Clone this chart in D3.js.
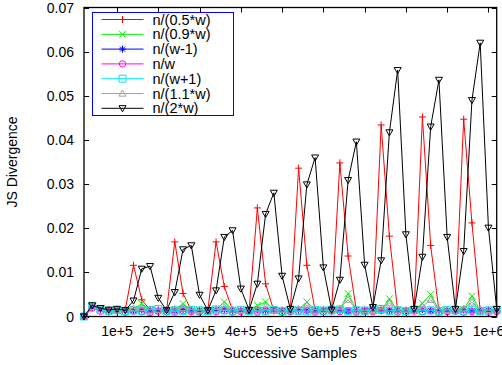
<!DOCTYPE html>
<html>
<head>
<meta charset="utf-8">
<script src="https://cdn.jsdelivr.net/npm/d3@7"></script>
<style>
  html, body { margin: 0; padding: 0; background: #fff; }
  svg { display: block; }
  text { font-family: "Liberation Sans", Arial, Helvetica, sans-serif; fill: #000; }
</style>
</head>
<body>
<svg id="chart" width="502" height="365"></svg>
<script>
// Sample positions (number of successive samples)
const samples = [
  20000, 40000, 60000, 80000, 100000, 120000, 140000, 160000, 180000, 200000,
  220000, 240000, 260000, 280000, 300000, 320000, 340000, 360000, 380000, 400000,
  420000, 440000, 460000, 480000, 500000, 520000, 540000, 560000, 580000, 600000,
  620000, 640000, 660000, 680000, 700000, 720000, 740000, 760000, 780000, 800000,
  820000, 840000, 860000, 880000, 900000, 920000, 940000, 960000, 980000, 1000000,
  1020000
];

// JS divergence per window setting
const halfW = [
  0, 0.0022, 0.0018, 0.0016, 0.0017, 0.0015, 0.0116, 0.0038, 0.0015, 0.0014,
  0.0013, 0.0169, 0.0052, 0.0014, 0.0012, 0.0013, 0.0169, 0.0068, 0.0014, 0.0012,
  0.0013, 0.0246, 0.0074, 0.0013, 0.0012, 0.0013, 0.0336, 0.0116, 0.0014, 0.0012,
  0.0014, 0.0348, 0.0137, 0.0013, 0.0012, 0.0014, 0.0434, 0.0182, 0.0013, 0.0012,
  0.0014, 0.0452, 0.0161, 0.0013, 0.0012, 0.0014, 0.0447, 0.0212, 0.0013, 0.0012,
  0.0014
];
const w09 = [
  0, 0.0023, 0.0017, 0.0015, 0.0016, 0.0014, 0.0016, 0.0029, 0.0015, 0.0013,
  0.0014, 0.0015, 0.0029, 0.0014, 0.0013, 0.0012, 0.0015, 0.0033, 0.0014, 0.0013,
  0.0014, 0.0025, 0.0033, 0.0014, 0.0013, 0.0013, 0.0016, 0.0033, 0.0015, 0.0013,
  0.0014, 0.0016, 0.0052, 0.0015, 0.0013, 0.0014, 0.0015, 0.0040, 0.0014, 0.0013,
  0.0014, 0.0030, 0.0050, 0.0015, 0.0013, 0.0014, 0.0016, 0.0046, 0.0014, 0.0013,
  0.0014
];
const wMinus1 = [
  0, 0.0021, 0.0016, 0.0015, 0.0014, 0.0016, 0.0013, 0.0015, 0.0012, 0.0014,
  0.0015, 0.0013, 0.0016, 0.0012, 0.0014, 0.0013, 0.0015, 0.0016, 0.0013, 0.0014,
  0.0012, 0.0015, 0.0014, 0.0016, 0.0013, 0.0012, 0.0015, 0.0014, 0.0013, 0.0016,
  0.0018, 0.0014, 0.0013, 0.0015, 0.0016, 0.0019, 0.0013, 0.0014, 0.0015, 0.0012,
  0.0014, 0.0016, 0.0013, 0.0015, 0.0014, 0.0012, 0.0015, 0.0013, 0.0016, 0.0014,
  0.0013
];
const wExact = [
  0, 0.0019, 0.0012, 0.0011, 0.0013, 0.0010, 0.0012, 0.0011, 0.0009, 0.0012,
  0.0011, 0.0010, 0.0013, 0.0011, 0.0010, 0.0012, 0.0011, 0.0013, 0.0010, 0.0011,
  0.0012, 0.0010, 0.0011, 0.0013, 0.0010, 0.0011, 0.0012, 0.0014, 0.0010, 0.0011,
  0.0012, 0.0011, 0.0013, 0.0010, 0.0012, 0.0011, 0.0014, 0.0012, 0.0010, 0.0011,
  0.0012, 0.0011, 0.0013, 0.0010, 0.0011, 0.0012, 0.0010, 0.0011, 0.0012, 0.0010,
  0.0011
];
const wPlus1 = [
  0, 0.0024, 0.0015, 0.0013, 0.0014, 0.0012, 0.0014, 0.0013, 0.0015, 0.0017,
  0.0012, 0.0014, 0.0013, 0.0015, 0.0014, 0.0012, 0.0016, 0.0014, 0.0013, 0.0015,
  0.0012, 0.0014, 0.0013, 0.0015, 0.0012, 0.0014, 0.0013, 0.0012, 0.0015, 0.0013,
  0.0014, 0.0016, 0.0012, 0.0014, 0.0013, 0.0015, 0.0017, 0.0013, 0.0014, 0.0012,
  0.0015, 0.0013, 0.0014, 0.0012, 0.0015, 0.0014, 0.0013, 0.0015, 0.0012, 0.0014,
  0.0015
];
const w11 = [
  0, 0.0025, 0.0017, 0.0016, 0.0015, 0.0017, 0.0018, 0.0020, 0.0016, 0.0015,
  0.0016, 0.0017, 0.0020, 0.0016, 0.0015, 0.0016, 0.0017, 0.0021, 0.0016, 0.0015,
  0.0016, 0.0018, 0.0022, 0.0016, 0.0015, 0.0016, 0.0017, 0.0025, 0.0016, 0.0015,
  0.0016, 0.0018, 0.0038, 0.0016, 0.0015, 0.0016, 0.0018, 0.0030, 0.0016, 0.0015,
  0.0016, 0.0022, 0.0038, 0.0016, 0.0015, 0.0016, 0.0018, 0.0032, 0.0016, 0.0015,
  0.0016
];
const twoW = [
  0, 0.0025, 0.0019, 0.0015, 0.0017, 0.0014, 0.0036, 0.0108, 0.0114, 0.0042,
  0.0014, 0.0055, 0.0152, 0.0161, 0.0049, 0.0014, 0.0059, 0.0180, 0.0195, 0.0063,
  0.0015, 0.0074, 0.0232, 0.0280, 0.0092, 0.0017, 0.0086, 0.0299, 0.0360, 0.0111,
  0.0015, 0.0083, 0.0309, 0.0396, 0.0117, 0.0021, 0.0127, 0.0417, 0.0558, 0.0186,
  0.0017, 0.0135, 0.0430, 0.0536, 0.0180, 0.0017, 0.0148, 0.0490, 0.0620, 0.0201,
  0.0017
];

const seriesNames = ["n/(0.5*w)", "n/(0.9*w)", "n/(w-1)", "n/w", "n/(w+1)", "n/(1.1*w)", "n/(2*w)"];
const seriesValues = [halfW, w09, wMinus1, wExact, wPlus1, w11, twoW];
const seriesColors = ["#ff0000", "#00ee00", "#0000ff", "#ff00ff", "#00e8e8", "#a0a0a0", "#000000"];
const seriesMarkers = ["plus", "cross", "star", "circle", "square", "triUp", "triDown"];

const xTicks = [100000, 200000, 300000, 400000, 500000, 600000, 700000, 800000, 900000, 1000000];
const xTickLabels = ["1e+5", "2e+5", "3e+5", "4e+5", "5e+5", "6e+5", "7e+5", "8e+5", "9e+5", "1e+6"];
const yTicks = [0, 0.01, 0.02, 0.03, 0.04, 0.05, 0.06, 0.07];
const yTickLabels = ["0", "0.01", "0.02", "0.03", "0.04", "0.05", "0.06", "0.07"];

const svg = d3.select("#chart");
const plotLeft = 84, plotRight = 496.7, plotTop = 7.5, plotBottom = 316.5;

const x = d3.scaleLinear().domain([20000, 1020000]).range([plotLeft, plotRight]);
const y = d3.scaleLinear().domain([0, 0.07]).range([plotBottom, plotTop]);

// Marker path generators, centred at 0,0
function markerPath(kind, s) {
  const h = s / 2;
  switch (kind) {
    case "plus": return `M${-h},0H${h}M0,${-h}V${h}`;
    case "cross": return `M${-h},${-h}L${h},${h}M${-h},${h}L${h},${-h}`;
    case "star": return `M${-h},0H${h}M0,${-h}V${h}M${-h*0.75},${-h*0.75}L${h*0.75},${h*0.75}M${-h*0.75},${h*0.75}L${h*0.75},${-h*0.75}`;
    case "square": return `M${-h},${-h}H${h}V${h}H${-h}Z`;
    case "triUp": return `M0,${-h}L${h},${h*0.75}L${-h},${h*0.75}Z`;
    case "triDown": return `M0,${h}L${h},${-h*0.75}L${-h},${-h*0.75}Z`;
  }
  return "";
}

function drawMarker(g, kind, color, cx, cy, s) {
  if (kind === "circle") {
    g.append("circle").attr("cx", cx).attr("cy", cy).attr("r", s / 2 - 0.3)
      .attr("fill", "none").attr("stroke", color).attr("stroke-width", 1);
  } else {
    g.append("path").attr("d", markerPath(kind, s))
      .attr("transform", `translate(${cx},${cy})`)
      .attr("fill", "none").attr("stroke", color).attr("stroke-width", 1);
  }
}

// Ticks (inward, mirrored on all four sides)
const tickG = svg.append("g").attr("stroke", "#000").attr("stroke-width", 1);
xTicks.forEach(v => {
  const px = Math.round(x(v)) + 0.5;
  tickG.append("line").attr("x1", px).attr("x2", px).attr("y1", plotBottom).attr("y2", plotBottom - 5);
  tickG.append("line").attr("x1", px).attr("x2", px).attr("y1", plotTop).attr("y2", plotTop + 5);
});
yTicks.forEach(v => {
  const py = Math.round(y(v)) + 0.5;
  tickG.append("line").attr("x1", plotLeft).attr("x2", plotLeft + 5).attr("y1", py).attr("y2", py);
  tickG.append("line").attr("x1", plotRight).attr("x2", plotRight - 5).attr("y1", py).attr("y2", py);
});

// Tick labels (the last one runs past the right edge of the page)
xTicks.forEach((v, i) => {
  svg.append("text").attr("x", x(v)).attr("y", 336)
    .attr("text-anchor", "middle").attr("font-size", 14).text(xTickLabels[i]);
});
yTicks.forEach((v, i) => {
  svg.append("text").attr("x", 74).attr("y", y(v) + 5)
    .attr("text-anchor", "end").attr("font-size", 14).text(yTickLabels[i]);
});

// Axis titles
svg.append("text").attr("x", 290).attr("y", 358).attr("text-anchor", "middle")
  .attr("font-size", 14.5).text("Successive Samples");
svg.append("text").attr("transform", "translate(17,162) rotate(-90)")
  .attr("text-anchor", "middle").attr("font-size", 14).text("JS Divergence");

// Series lines and markers
const line = d3.line().x(d => x(d[0])).y(d => y(d[1]));
const plotG = svg.append("g");
seriesValues.forEach((vals, si) => {
  const pts = samples.map((s, i) => [s, vals[i]]);
  const g = plotG.append("g");
  g.append("path").attr("d", line(pts)).attr("fill", "none")
    .attr("stroke", seriesColors[si]).attr("stroke-width", 1);
  pts.forEach(p => drawMarker(g, seriesMarkers[si], seriesColors[si], x(p[0]), y(p[1]), 7));
});

// Border
svg.append("rect").attr("x", plotLeft).attr("y", plotTop)
  .attr("width", plotRight - plotLeft).attr("height", plotBottom - plotTop)
  .attr("fill", "none").attr("stroke", "#000").attr("stroke-width", 1.3);

// Legend
const lg = svg.append("g");
lg.append("rect").attr("x", 92.5).attr("y", 12.5).attr("width", 141).attr("height", 103)
  .attr("fill", "#fff").attr("stroke", "#0000ff").attr("stroke-width", 1);
seriesNames.forEach((name, i) => {
  const ry = 19.5 + i * 14.8;
  lg.append("line").attr("x1", 101.5).attr("x2", 143.5).attr("y1", ry).attr("y2", ry)
    .attr("stroke", seriesColors[i]).attr("stroke-width", 1);
  drawMarker(lg, seriesMarkers[i], seriesColors[i], 122.5, ry, 7);
  lg.append("text").attr("x", 152.5).attr("y", ry + 5).attr("font-size", 14.5).text(name);
});
</script>
</body>
</html>
